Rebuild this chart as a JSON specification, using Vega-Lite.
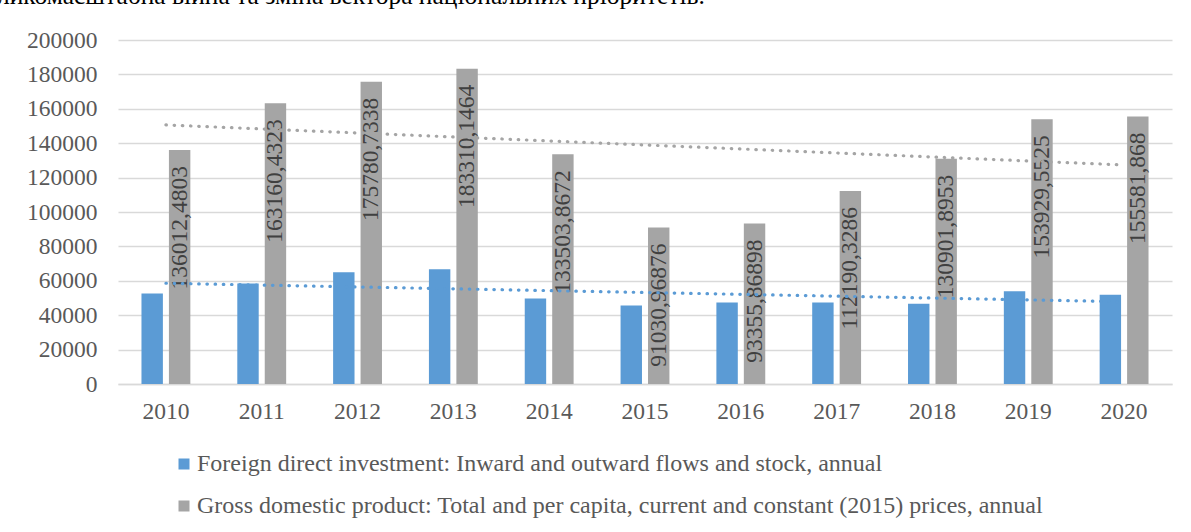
{
  "$schema": "https://vega.github.io/schema/vega-lite/v6.json",
  "width": 1054,
  "height": 344,
  "autosize": {"type": "none"},
  "padding": {"left": 118, "top": 40, "right": 19, "bottom": 148},
  "background": "white",
  "config": {
    "view": {"stroke": null},
    "font": "Liberation Serif",
    "locale": {"number": {"decimal": ",", "thousands": "", "grouping": [3], "currency": ["", ""]}}
  },
  "title": {
    "text": "ликомасштабна війна та зміна вектора національних пріоритетів.",
    "anchor": "start",
    "frame": "group",
    "dx": -121,
    "offset": 19,
    "fontSize": 25.5,
    "font": "Liberation Serif",
    "fontWeight": "normal",
    "color": "#000000"
  },
  "data": {
    "values": [
      {"year": 2010, "series": "Foreign direct investment: Inward and outward flows and stock, annual", "value": 52630},
      {"year": 2011, "series": "Foreign direct investment: Inward and outward flows and stock, annual", "value": 58430},
      {"year": 2012, "series": "Foreign direct investment: Inward and outward flows and stock, annual", "value": 64980},
      {"year": 2013, "series": "Foreign direct investment: Inward and outward flows and stock, annual", "value": 66720},
      {"year": 2014, "series": "Foreign direct investment: Inward and outward flows and stock, annual", "value": 49720},
      {"year": 2015, "series": "Foreign direct investment: Inward and outward flows and stock, annual", "value": 45660},
      {"year": 2016, "series": "Foreign direct investment: Inward and outward flows and stock, annual", "value": 47400},
      {"year": 2017, "series": "Foreign direct investment: Inward and outward flows and stock, annual", "value": 47400},
      {"year": 2018, "series": "Foreign direct investment: Inward and outward flows and stock, annual", "value": 46600},
      {"year": 2019, "series": "Foreign direct investment: Inward and outward flows and stock, annual", "value": 53960},
      {"year": 2020, "series": "Foreign direct investment: Inward and outward flows and stock, annual", "value": 51820},
      {"year": 2010, "series": "Gross domestic product: Total and per capita, current and constant (2015) prices, annual", "value": 136012.4803},
      {"year": 2011, "series": "Gross domestic product: Total and per capita, current and constant (2015) prices, annual", "value": 163160.4323},
      {"year": 2012, "series": "Gross domestic product: Total and per capita, current and constant (2015) prices, annual", "value": 175780.7338},
      {"year": 2013, "series": "Gross domestic product: Total and per capita, current and constant (2015) prices, annual", "value": 183310.1464},
      {"year": 2014, "series": "Gross domestic product: Total and per capita, current and constant (2015) prices, annual", "value": 133503.8672},
      {"year": 2015, "series": "Gross domestic product: Total and per capita, current and constant (2015) prices, annual", "value": 91030.96876},
      {"year": 2016, "series": "Gross domestic product: Total and per capita, current and constant (2015) prices, annual", "value": 93355.86898},
      {"year": 2017, "series": "Gross domestic product: Total and per capita, current and constant (2015) prices, annual", "value": 112190.3286},
      {"year": 2018, "series": "Gross domestic product: Total and per capita, current and constant (2015) prices, annual", "value": 130901.8953},
      {"year": 2019, "series": "Gross domestic product: Total and per capita, current and constant (2015) prices, annual", "value": 153929.5525},
      {"year": 2020, "series": "Gross domestic product: Total and per capita, current and constant (2015) prices, annual", "value": 155581.868}
    ]
  },
  "encoding": {
    "x": {
      "field": "year",
      "type": "ordinal",
      "scale": {"paddingInner": 0.49, "paddingOuter": 0.245},
      "axis": {
        "title": null,
        "labelAngle": 0,
        "labelFontSize": 23.5,
        "labelColor": "#595959",
        "labelPadding": 15,
        "ticks": false,
        "domainColor": "#D9D9D9",
        "domainWidth": 1.3
      }
    },
    "y": {
      "field": "value",
      "type": "quantitative",
      "scale": {"domain": [0, 200000], "nice": false},
      "axis": {
        "title": null,
        "values": [0, 20000, 40000, 60000, 80000, 100000, 120000, 140000, 160000, 180000, 200000],
        "format": "d",
        "labelFontSize": 23.5,
        "labelColor": "#595959",
        "labelPadding": 21,
        "ticks": false,
        "domain": false,
        "gridColor": "#D9D9D9",
        "gridWidth": 1.3
      }
    }
  },
  "layer": [
    {
      "mark": {"type": "bar"},
      "encoding": {
        "xOffset": {"field": "series", "type": "nominal", "scale": {"paddingInner": 0.22, "paddingOuter": 0}},
        "color": {
          "field": "series",
          "type": "nominal",
          "scale": {
            "domain": [
              "Foreign direct investment: Inward and outward flows and stock, annual",
              "Gross domestic product: Total and per capita, current and constant (2015) prices, annual"
            ],
            "range": ["#5B9BD5", "#A5A5A5"]
          },
          "legend": {
            "orient": "none",
            "legendX": 54,
            "legendY": 412,
            "direction": "vertical",
            "title": null,
            "symbolType": "square",
            "symbolSize": 121,
            "symbolStrokeWidth": 0,
            "labelFont": "Liberation Serif",
            "labelFontSize": 24,
            "labelColor": "#595959",
            "labelOffset": 1,
            "labelLimit": 1100,
            "rowPadding": 18,
            "padding": 0
          }
        }
      }
    },
    {
      "transform": [
        {"filter": {"field": "series", "equal": "Gross domestic product: Total and per capita, current and constant (2015) prices, annual"}}
      ],
      "mark": {
        "type": "text",
        "angle": 270,
        "align": "right",
        "baseline": "middle",
        "dx": -16,
        "fontSize": 23.5,
        "font": "Liberation Serif",
        "color": "#404040"
      },
      "encoding": {
        "xOffset": {"field": "series", "type": "nominal"},
        "text": {"field": "value", "type": "quantitative", "format": "~f"}
      }
    },
    {
      "transform": [
        {"regression": "value", "on": "year", "groupby": ["series"]}
      ],
      "mark": {
        "type": "line",
        "strokeDash": [0.5, 7.7],
        "strokeCap": "round",
        "strokeWidth": 3.2
      },
      "encoding": {
        "color": {"field": "series", "type": "nominal", "legend": null}
      }
    }
  ]
}
